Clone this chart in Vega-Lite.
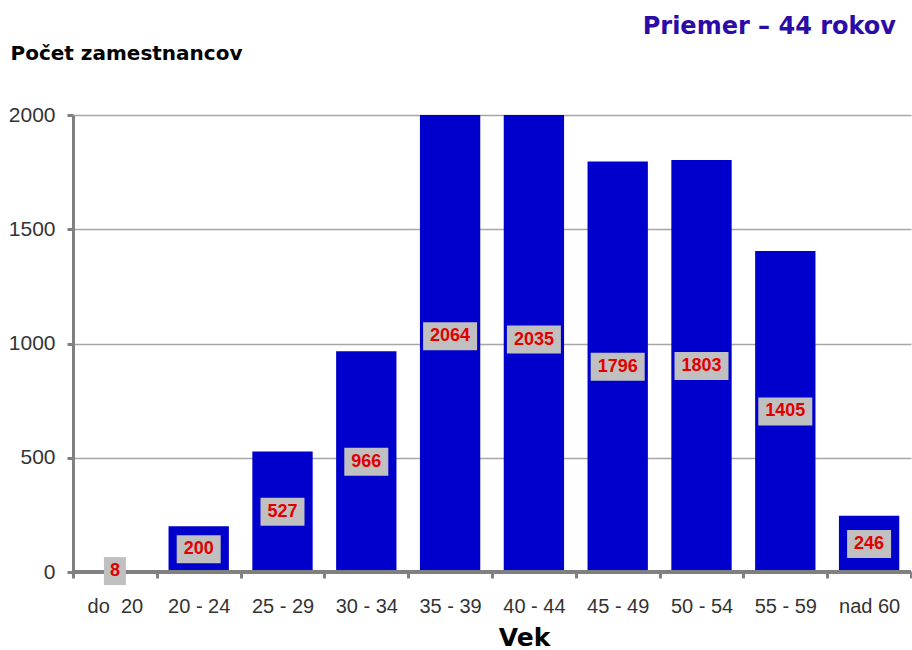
{
  "$schema": "https://vega.github.io/schema/vega-lite/v6.json",
  "width": 838,
  "height": 457,
  "autosize": "none",
  "padding": {"left": 73, "top": 115, "right": 1, "bottom": 78},
  "config": {"view": {"stroke": null}, "font": "Liberation Sans"},
  "title": {"text": "Priemer – 44 rokov", "anchor": "end", "color": "#2B0CA6", "fontSize": 24, "font": "DejaVu Sans", "fontWeight": "bold", "offset": 4, "dx": -15, "frame": "group"},
  "data": {"values": [
    {"age": "do \u00a020", "count": 8},
    {"age": "20 - 24", "count": 200},
    {"age": "25 - 29", "count": 527},
    {"age": "30 - 34", "count": 966},
    {"age": "35 - 39", "count": 2064},
    {"age": "40 - 44", "count": 2035},
    {"age": "45 - 49", "count": 1796},
    {"age": "50 - 54", "count": 1803},
    {"age": "55 - 59", "count": 1405},
    {"age": "nad 60", "count": 246}
  ]},
  "layer": [
    {
      "mark": {"type": "bar", "color": "#0000CC", "clip": true, "width": {"band": 0.72}},
      "encoding": {
        "x": {"field": "age", "type": "nominal", "sort": null,
          "scale": {"paddingInner": 0, "paddingOuter": 0},
          "axis": {"title": "Vek", "titleFontSize": 25, "titleFontWeight": "bold", "titleColor": "#000000", "titlePadding": 9, "titleFont": "DejaVu Sans", "titleX": 451, "titleAlign": "center",
            "labelAngle": 0, "labelFontSize": 20, "labelColor": "#333333", "labelPadding": 18,
            "tickSize": 6, "tickWidth": 3, "tickColor": "#808080", "domainWidth": 3, "domainColor": "#808080", "tickBand": "extent"}},
        "y": {"field": "count", "type": "quantitative", "scale": {"domain": [0, 2000], "nice": false},
          "axis": {"values": [0, 500, 1000, 1500, 2000], "format": "d", "grid": true, "gridColor": "#A6A6A6", "gridWidth": 1.5,
            "domainColor": "#808080", "domainWidth": 3, "tickColor": "#808080", "tickWidth": 3, "tickSize": 6,
            "labelFontSize": 21, "labelColor": "#333333", "labelPadding": 12,
            "title": "Počet zamestnancov", "titleAngle": 0, "titleAlign": "left", "titleBaseline": "middle",
            "titleX": -63, "titleY": -62, "titleFontSize": 20, "titleFontWeight": "bold", "titleColor": "#000000", "titleFont": "DejaVu Sans"}}
      }
    },
    {
      "mark": {"type": "rule", "color": "#808080", "strokeWidth": 3},
      "encoding": {
        "y": {"datum": 0, "type": "quantitative", "scale": {"domain": [0, 2000], "nice": false}, "axis": null}
      }
    },
    {
      "mark": {"type": "point", "filled": true, "color": "#C0C0C0", "opacity": 1, "strokeWidth": 0},
      "encoding": {
        "x": {"field": "age", "type": "nominal", "sort": null},
        "y": {"field": "count", "type": "quantitative", "scale": {"domain": [0, 4000], "nice": false}, "axis": null},
        "shape": {"condition": [
          {"test": "datum.count < 10", "value": "M-0.786,-1H0.786V1H-0.786Z"},
          {"test": "datum.count < 1000", "value": "M-1,-0.636H1V0.636H-1Z"}
        ], "value": "M-1,-0.52H1V0.52H-1Z"},
        "size": {"condition": [
          {"test": "datum.count < 10", "value": 784},
          {"test": "datum.count < 1000", "value": 1936}
        ], "value": 2916}
      }
    },
    {
      "mark": {"type": "text", "color": "#E00000", "fontSize": 18, "fontWeight": "bold", "baseline": "middle", "align": "center"},
      "encoding": {
        "x": {"field": "age", "type": "nominal", "sort": null},
        "y": {"field": "count", "type": "quantitative", "scale": {"domain": [0, 4000], "nice": false}, "axis": null},
        "text": {"field": "count", "type": "quantitative"}
      }
    }
  ],
  "resolve": {"scale": {"y": "independent"}}
}
